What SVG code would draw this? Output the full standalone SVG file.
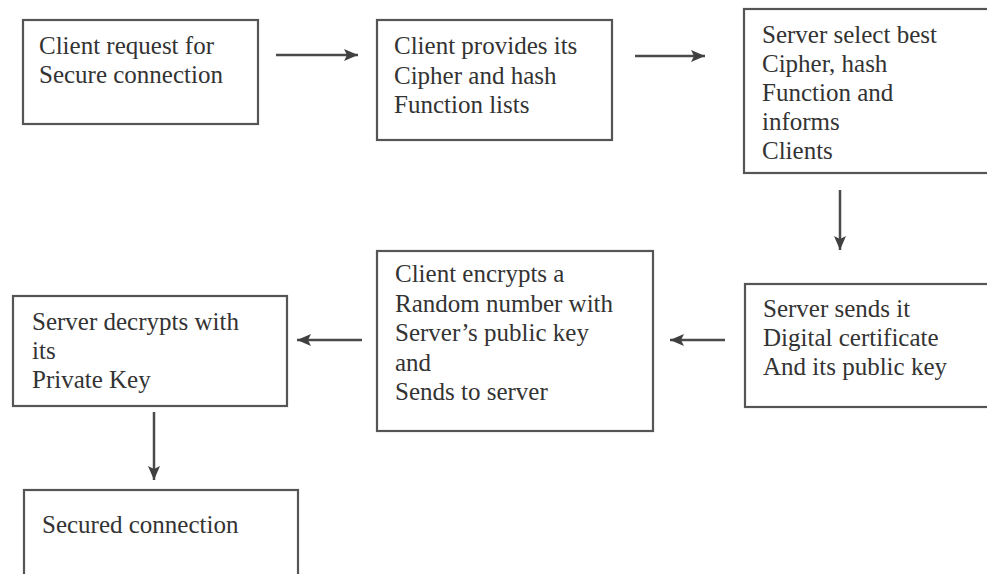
<svg xmlns="http://www.w3.org/2000/svg" width="987" height="574" viewBox="0 0 987 574">
  <style>
    .box { fill: #ffffff; stroke: #555555; stroke-width: 2.2; }
    .label { font-family: "Liberation Serif", "Times New Roman", serif; font-size: 25px; fill: #333333; }
    .conn { stroke: #4a4a4a; stroke-width: 2.5; fill: none; marker-end: url(#head); }
  </style>
  <defs>
    <!-- filled arrowhead with a slightly swept-back base -->
    <marker id="head" markerWidth="14" markerHeight="12" refX="14" refY="6" orient="auto" markerUnits="userSpaceOnUse">
      <path d="M0,0 L14,6 L0,12 L3,6 Z" fill="#404040"/>
    </marker>
  </defs>
  <rect width="987" height="574" fill="#ffffff"/>

  <g id="node-request">
    <rect class="box" x="23" y="20" width="235" height="104"/>
    <text class="label" x="39" y="54">Client request for</text>
    <text class="label" x="39" y="83">Secure connection</text>
  </g>

  <g id="node-client-lists">
    <rect class="box" x="377" y="20" width="235" height="120"/>
    <text class="label" x="394" y="54">Client provides its</text>
    <text class="label" x="394" y="83.5">Cipher and hash</text>
    <text class="label" x="394" y="113">Function lists</text>
  </g>

  <g id="node-server-select">
    <rect class="box" x="744" y="9" width="250" height="164"/>
    <text class="label" x="762" y="43">Server select best</text>
    <text class="label" x="762" y="72">Cipher, hash</text>
    <text class="label" x="762" y="101">Function and</text>
    <text class="label" x="762" y="130">informs</text>
    <text class="label" x="762" y="159">Clients</text>
  </g>

  <g id="node-server-cert">
    <rect class="box" x="745" y="284" width="250" height="123"/>
    <text class="label" x="763" y="317">Server sends it</text>
    <text class="label" x="763" y="346">Digital certificate</text>
    <text class="label" x="763" y="375">And its public key</text>
  </g>

  <g id="node-client-encrypts">
    <rect class="box" x="377" y="251" width="276" height="180"/>
    <text class="label" x="395" y="282">Client encrypts a</text>
    <text class="label" x="395" y="311.5">Random number with</text>
    <text class="label" x="395" y="341">Server’s public key</text>
    <text class="label" x="395" y="370.5">and</text>
    <text class="label" x="395" y="400">Sends to server</text>
  </g>

  <g id="node-server-decrypts">
    <rect class="box" x="13" y="296" width="274" height="110"/>
    <text class="label" x="32" y="330">Server decrypts with</text>
    <text class="label" x="32" y="359">its</text>
    <text class="label" x="32" y="388">Private Key</text>
  </g>

  <g id="node-secured">
    <rect class="box" x="24" y="490" width="274" height="100"/>
    <text class="label" x="42" y="533">Secured connection</text>
  </g>

  <g id="connectors">
    <line class="conn" x1="276" y1="55" x2="358" y2="55"/>
    <line class="conn" x1="635" y1="56" x2="705" y2="56"/>
    <line class="conn" x1="840" y1="190" x2="840" y2="250"/>
    <line class="conn" x1="725" y1="340" x2="670" y2="340"/>
    <line class="conn" x1="362" y1="340" x2="297" y2="340"/>
    <line class="conn" x1="154" y1="412" x2="154" y2="480"/>
  </g>
</svg>
